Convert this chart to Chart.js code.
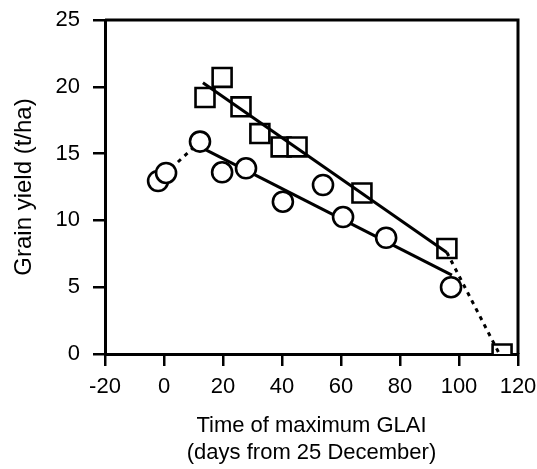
<!DOCTYPE html>
<html>
<head>
<meta charset="utf-8">
<script src="https://cdn.jsdelivr.net/npm/chart.js@4/dist/chart.umd.min.js"></script>
<style>
  html, body { margin: 0; padding: 0; background: #fff; }
  #wrap { width: 537px; height: 469px; }
</style>
</head>
<body>
<div id="wrap"><canvas id="chart"></canvas></div>
<script>
// ==== Data ====
const squareDays  = [13.9, 19.7, 26.1, 32.5, 39.7, 45.1, 67.1, 95.9, 114.6];
const squareYield = [19.2, 20.7, 18.5, 16.5, 15.5, 15.5, 12.05, 7.9, 0];

const circleDays  = [-2.0, 0.7, 12.2, 19.7, 27.8, 40.3, 53.9, 60.7, 75.3, 97.3];
const circleYield = [12.95, 13.55, 15.9, 13.6, 13.9, 11.4, 12.65, 10.25, 8.7, 5.0];

// fitted lines (solid) and extrapolations (dotted)
const squareFitX = [13.2, 95.9];
const squareFitY = [20.3, 7.6];
const squareDotX = [95.9, 113.7];
const squareDotY = [7.6, 0];

const circleFitX = [12.2, 97.6];
const circleFitY = [15.5, 5.9];
const circleDotX = [-2.0, 12.2];
const circleDotY = [13.0, 15.9];

const xTicks = [-20, 0, 20, 40, 60, 80, 100, 120];
const yTicks = [0, 5, 10, 15, 20, 25];

const toPoints = (xs, ys) => xs.map((x, i) => ({ x: x, y: ys[i] }));

const INK = '#000';
const FONT = "'Liberation Sans', Arial, sans-serif";

// top + right frame lines
const framePlugin = {
  id: 'frame',
  afterDatasetsDraw(chart) {
    const { ctx, chartArea: a } = chart;
    ctx.save();
    ctx.strokeStyle = INK;
    ctx.lineWidth = 3;
    ctx.beginPath();
    ctx.moveTo(a.left, a.top);
    ctx.lineTo(a.right, a.top);
    ctx.lineTo(a.right, a.bottom);
    ctx.stroke();
    ctx.restore();
  }
};

function lineSet(xs, ys, dashed, order) {
  return {
    type: 'line',
    data: toPoints(xs, ys),
    showLine: true,
    borderColor: INK,
    borderWidth: 3,
    borderDash: dashed ? [4, 5] : [],
    pointRadius: 0,
    fill: false,
    order: order
  };
}

new Chart(document.getElementById('chart'), {
  type: 'scatter',
  data: {
    datasets: [
      {
        label: 'circles',
        data: toPoints(circleDays, circleYield),
        pointStyle: 'circle',
        pointRadius: 10,
        pointBorderWidth: 2.6,
        pointBackgroundColor: '#fff',
        pointBorderColor: INK,
        order: 1
      },
      lineSet(circleFitX, circleFitY, false, 2),
      lineSet(circleDotX, circleDotY, true, 2),
      lineSet(squareFitX, squareFitY, false, 3),
      lineSet(squareDotX, squareDotY, true, 3),
      {
        label: 'squares',
        data: toPoints(squareDays, squareYield),
        pointStyle: 'rect',
        pointRadius: 13.4,
        pointBorderWidth: 2.6,
        pointBackgroundColor: '#fff',
        pointBorderColor: INK,
        order: 4
      }
    ]
  },
  options: {
    responsive: true,
    maintainAspectRatio: false,
    animation: false,
    layout: { padding: { top: 20, right: 19, left: 0, bottom: 0 } },
    plugins: { legend: { display: false }, tooltip: { enabled: false } },
    scales: {
      x: {
        type: 'linear',
        min: -20,
        max: 120,
        afterBuildTicks: (s) => { s.ticks = xTicks.map(v => ({ value: v })); },
        afterFit: (s) => { s.height = 115; s.paddingLeft = 0; s.paddingRight = 0; },
        border: { color: INK, width: 3 },
        grid: { drawOnChartArea: false, color: INK, lineWidth: 2.5, tickLength: 12 },
        ticks: { color: INK, padding: 8, font: { family: FONT, size: 22 } },
        title: {
          display: true,
          text: ['Time of maximum GLAI', '(days from 25 December)'],
          color: INK,
          padding: { top: 0, bottom: 3 },
          font: { family: FONT, size: 22 }
        }
      },
      y: {
        min: 0,
        max: 25,
        afterBuildTicks: (s) => { s.ticks = yTicks.map(v => ({ value: v })); },
        afterFit: (s) => { s.width = 105; s.paddingTop = 0; s.paddingBottom = 0; },
        border: { color: INK, width: 3 },
        grid: { drawOnChartArea: false, color: INK, lineWidth: 2.5, tickLength: 12 },
        ticks: { color: INK, padding: 13, font: { family: FONT, size: 22 } },
        title: {
          display: true,
          text: 'Grain yield (t/ha)',
          color: INK,
          padding: { top: 10, bottom: 0 },
          font: { family: FONT, size: 24 }
        }
      }
    }
  },
  plugins: [framePlugin]
});
</script>
</body>
</html>
